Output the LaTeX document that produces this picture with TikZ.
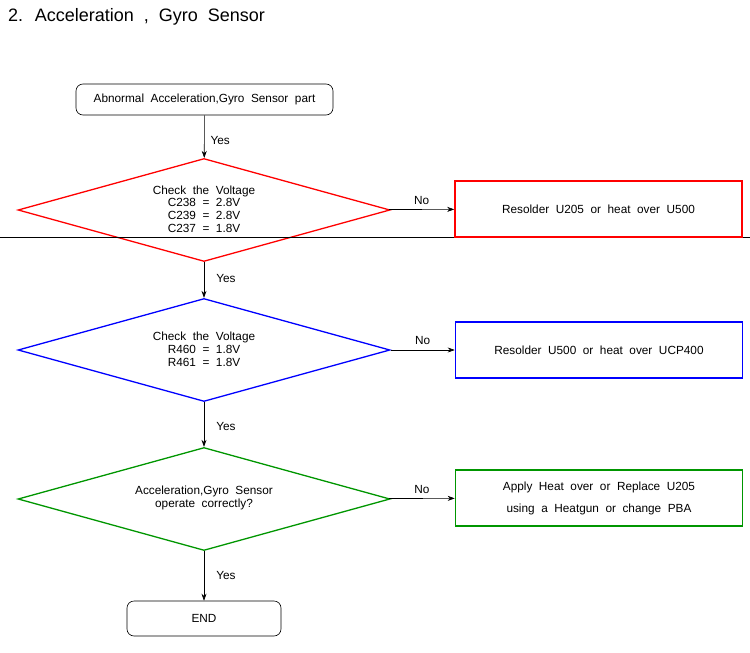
\documentclass[tikz,border=0pt]{standalone}
\usepackage{fontspec}
\setmainfont{Liberation Sans}[WordSpace=2.0]
\usetikzlibrary{shapes.geometric,arrows.meta}
\begin{document}
\begin{tikzpicture}[x=1pt,y=-1pt,
  txt/.style={font=\fontsize{11.8}{12.8}\selectfont, align=center, inner sep=0},
  term/.style={draw, rounded corners=7pt, line width=0.6pt, txt},
  dia/.style={draw, diamond, line width=1.3pt, minimum width=372pt, minimum height=103pt, inner sep=0, aspect=3.6},
  box/.style={draw, line width=1.6pt, minimum width=287pt, minimum height=56pt, txt},
  arr/.style={-{Stealth[length=7pt,width=5pt]}, line width=0.6pt},
  lab/.style={font=\fontsize{11.8}{13}\selectfont, inner sep=0}]
\useasboundingbox (0,0) rectangle (750,653);
\node[anchor=west, font=\fontsize{18}{20}\selectfont, inner sep=0] (title) at (8,17) {2. Acceleration , Gyro Sensor};
\node[term, minimum width=257pt, minimum height=31pt] (start) at (204.5,99.5) {Abnormal Acceleration,Gyro Sensor part};
\node[dia, draw=red] (d1) at (204,210) {};
\node[txt] (t1) at (204,209) {Check the Voltage\\C238 = 2.8V\\C239 = 2.8V\\C237 = 1.8V};
\coordinate (l1) at (0,237); \coordinate (l2) at (750,237);
\draw[line width=0.6pt] (l1) -- (l2);
\node[box, draw=red] (b1) at (598.5,209) {Resolder U205 or heat over U500};
\node[dia, draw=blue] (d2) at (204,350) {};
\node[txt] (t2) at (204,349) {Check the Voltage\\R460 = 1.8V\\R461 = 1.8V};
\node[box, draw=blue] (b2) at (599,350) {Resolder U500 or heat over UCP400};
\node[dia, draw={rgb,255:red,0;green,150;blue,0}] (d3) at (204,499) {};
\node[txt] (t3) at (204,498) {Acceleration,Gyro Sensor\\operate correctly?};
\node[box, draw={rgb,255:red,0;green,150;blue,0}, font=\fontsize{11.8}{22}\selectfont] (b3) at (599,498) {Apply Heat over or Replace U205\\using a Heatgun or change PBA};
\node[term, minimum width=154pt, minimum height=35pt] (end) at (204,618.5) {END};
\draw[arr] (start) -- (d1) node[lab, pos=0.6, right=6pt] {Yes};
\draw[arr] (d1) -- (d2) node[lab, pos=0.45, right=12pt] {Yes};
\draw[arr] (d2) -- (d3) node[lab, pos=0.55, right=12pt] {Yes};
\draw[arr] (d3) -- (end) node[lab, pos=0.5, right=12pt] {Yes};
\draw[arr] (d1) -- (b1) node[lab, midway, above=5pt] {No};
\draw[arr] (d2) -- (b2) node[lab, midway, above=5pt] {No};
\draw[arr] (d3) -- (b3) node[lab, midway, above=5pt] {No};
\end{tikzpicture}
\end{document}
